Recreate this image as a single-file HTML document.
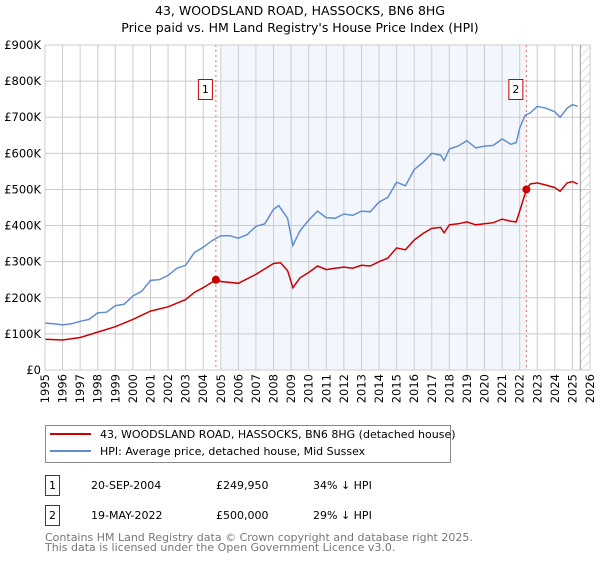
<!DOCTYPE html>
<html><head><meta charset="utf-8"><style>
body{margin:0;background:#fff;font-family:"Liberation Sans","DejaVu Sans",sans-serif;}
svg text{font-family:"DejaVu Sans","Liberation Sans",sans-serif;}
</style></head><body>
<svg id="c" width="600" height="560" viewBox="0 0 600 560" xmlns="http://www.w3.org/2000/svg">
<text x="300" y="15" text-anchor="middle" font-size="12.5">43, WOODSLAND ROAD, HASSOCKS, BN6 8HG</text>
<text x="300" y="32" text-anchor="middle" font-size="12.5">Price paid vs. HM Land Registry's House Price Index (HPI)</text>
<g id="grid"></g><g id="marks"></g>
<g>
<rect x="45.5" y="425.5" width="405" height="37" fill="#fff" stroke="#888"/>
<line x1="50" y1="434" x2="91" y2="434" stroke="#cc0000" stroke-width="2"/>
<text x="100" y="438" font-size="11">43, WOODSLAND ROAD, HASSOCKS, BN6 8HG (detached house)</text>
<line x1="50" y1="451" x2="91" y2="451" stroke="#5f8fd0" stroke-width="2"/>
<text x="100" y="455" font-size="11">HPI: Average price, detached house, Mid Sussex</text>
</g>
<g font-size="11">
<rect x="45.5" y="475.5" width="14" height="20" fill="none" stroke="#cc0000"/><text x="52.5" y="489" text-anchor="middle">1</text>
<text x="91" y="489">20-SEP-2004</text><text x="216" y="489">£249,950</text><text x="313" y="489">34% ↓ HPI</text>
<rect x="45.5" y="505.5" width="14" height="20" fill="none" stroke="#cc0000"/><text x="52.5" y="519" text-anchor="middle">2</text>
<text x="91" y="519">19-MAY-2022</text><text x="216" y="519">£500,000</text><text x="313" y="519">29% ↓ HPI</text>
</g>
<text x="45" y="541" font-size="11" fill="#777">Contains HM Land Registry data © Crown copyright and database right 2025.</text>
<text x="45" y="551" font-size="11" fill="#777">This data is licensed under the Open Government Licence v3.0.</text>
</svg>
<script>
const yTicks=[0,100,200,300,400,500,600,700,800,900];
const yTickLabels=["£0","£100K","£200K","£300K","£400K","£500K","£600K","£700K","£800K","£900K"];
const years=[1995,1996,1997,1998,1999,2000,2001,2002,2003,2004,2005,2006,2007,2008,2009,2010,2011,2012,2013,2014,2015,2016,2017,2018,2019,2020,2021,2022,2023,2024,2025,2026];
const hpiT=[1995,1995.5,1996,1996.5,1997,1997.5,1998,1998.5,1999,1999.5,2000,2000.5,2001,2001.5,2002,2002.5,2003,2003.5,2004,2004.5,2005,2005.5,2006,2006.5,2007,2007.5,2008,2008.3,2008.8,2009.1,2009.5,2010,2010.5,2011,2011.5,2012,2012.5,2013,2013.5,2014,2014.5,2015,2015.5,2016,2016.5,2017,2017.5,2017.7,2018,2018.5,2019,2019.5,2020,2020.5,2021,2021.5,2021.8,2022,2022.3,2022.6,2023,2023.5,2024,2024.3,2024.7,2025,2025.3];
const hpiV=[130,128,125,128,135,140,158,160,178,182,205,218,248,250,262,282,290,325,340,358,372,372,365,375,398,405,445,455,420,345,385,415,440,422,420,432,428,440,438,465,478,520,510,555,575,600,595,580,612,620,635,615,620,622,640,625,630,670,705,712,730,725,715,700,725,735,730];
const redT=[1995,1996,1997,1998,1999,2000,2001,2002,2003,2003.5,2004,2004.72,2005,2006,2007,2007.5,2008,2008.4,2008.8,2009.1,2009.5,2010,2010.5,2011,2011.5,2012,2012.5,2013,2013.5,2014,2014.5,2015,2015.5,2016,2016.5,2017,2017.5,2017.7,2018,2018.5,2019,2019.5,2020,2020.5,2021,2021.5,2021.8,2022,2022.38,2022.6,2023,2023.5,2024,2024.3,2024.7,2025,2025.3];
const redV=[85,83,90,105,120,140,163,175,195,215,228,250,245,240,265,280,295,297,275,228,255,270,288,278,282,285,282,290,288,300,310,338,333,360,378,392,395,380,402,405,410,402,405,408,418,412,410,440,500,515,518,512,505,495,518,522,515];
const saleT=[2004.72,2022.38];
const saleV=[249.95,500];
const saleLabels=["1","2"];
const X0=45,X1=590,Y0=370,Y1=45;
const x=t=>X0+(t-1995)/(2026-1995)*(X1-X0);
const y=v=>Y0-v/900*(Y0-Y1);
const NS="http://www.w3.org/2000/svg";
function mk(tag,attrs,parent,txt){const e=document.createElementNS(NS,tag);for(const k in attrs)e.setAttribute(k,attrs[k]);if(txt!==undefined)e.textContent=txt;parent.appendChild(e);return e;}
const g=document.getElementById('grid'),m=document.getElementById('marks');
let sh=mk('rect',{x:x(2005),y:Y1,width:x(saleT[1])-x(2005),height:Y0-Y1,fill:'#eef3fc',opacity:0.7},g);


const pat=mk('pattern',{id:'hatch',width:6,height:6,patternUnits:'userSpaceOnUse',patternTransform:'rotate(45)'},mk('defs',{},g));
mk('line',{x1:0,y1:0,x2:0,y2:6,stroke:'#bbb','stroke-width':1},pat);
let ht=mk('rect',{x:x(2025.45),y:Y1,width:X1-x(2025.45),height:Y0-Y1,fill:'url(#hatch)'},g);


yTicks.forEach((v,i)=>{
 mk('line',{x1:X0,x2:X1,y1:y(v),y2:y(v),stroke:'#ccc'},g);
 const t=mk('text',{x:X0-4,y:y(v)+4,'text-anchor':'end','font-size':11.5},g,yTickLabels[i]);
 
 
});
years.forEach(yr=>{
 mk('line',{x1:x(yr),x2:x(yr),y1:Y1,y2:Y0,stroke:'#ccc'},g);
 const t=mk('text',{transform:`translate(${x(yr)+4},${Y0+4}) rotate(-90)`,'text-anchor':'end','font-size':11.5},g,String(yr));
 
 
});
mk('line',{x1:x(2025.45),x2:x(2025.45),y1:Y1,y2:Y0,stroke:'#999'},g);
saleT.forEach((t,i)=>{
 const l=mk('line',{x1:x(t),x2:x(t),y1:Y1,y2:Y0,stroke:'#e66','stroke-dasharray':'2,3'},m);
 
 
 const b=mk('g',{},m);
 
 
 mk('rect',{x:x(t)-17.5,y:79.5,width:14,height:20,fill:'#fff',stroke:'#cc0000'},b);
 mk('text',{x:x(t)-10.5,y:93,'text-anchor':'middle','font-size':11},b,saleLabels[i]);
});
function line(T,V,color,name){
 const p=mk('path',{d:T.map((t,i)=>(i?'L':'M')+x(t).toFixed(1)+','+y(V[i]).toFixed(1)).join(''),fill:'none',stroke:color,'stroke-width':1.5},m);
 
 
}
line(hpiT,hpiV,'#5f8fd0','hpi-line');
line(redT,redV,'#cc0000','price-paid-line');
saleT.forEach((t,i)=>{
 const c=mk('circle',{cx:x(t),cy:y(saleV[i]),r:4,fill:'#cc0000'},m);
 
 
});
mk('rect',{x:X0,y:Y1,width:X1-X0,height:Y0-Y1,fill:'none',stroke:'#ccc'},m);
</script>
</body></html>
